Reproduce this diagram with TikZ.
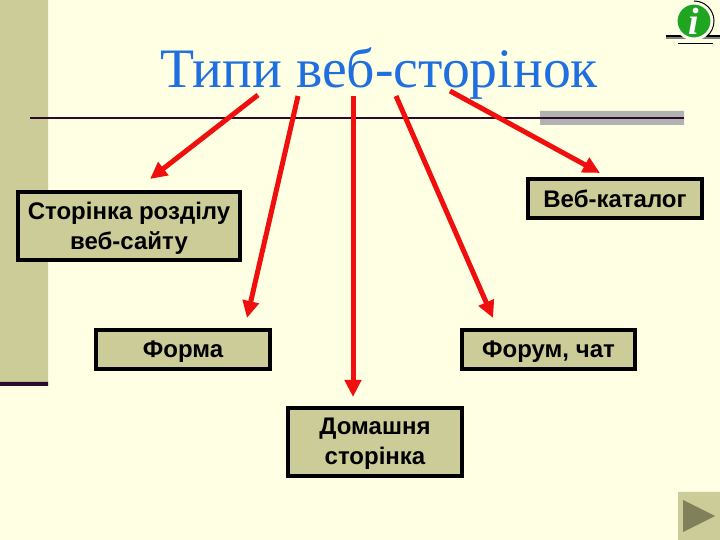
\documentclass[tikz,border=0pt]{standalone}
\usepackage{fontspec}
\setmainfont{Liberation Sans}
\newfontfamily\titlefont{Liberation Serif}
\usetikzlibrary{arrows.meta}
\definecolor{PageBg}{HTML}{FFFFE3}
\definecolor{BandOlive}{HTML}{CCCC99}
\definecolor{DarkPlum}{HTML}{2B0A2B}
\definecolor{BarGrey}{HTML}{B2B2B2}
\definecolor{TitleBlue}{HTML}{1F6FE0}
\definecolor{ArrowRed}{HTML}{F00F0F}
\definecolor{PlayOlive}{HTML}{80805A}
\definecolor{InfoGreen}{HTML}{1FA51F}
\tikzset{
  pagebox/.style={draw=black, line width=4pt, fill=BandOlive, align=center, font=\fontsize{24}{30}\selectfont\bfseries, inner sep=0pt, text depth=1pt},
  redarrow/.style={draw=ArrowRed, line width=5pt, -{Triangle[length=17pt,width=16pt]}},
}
\begin{document}
\begin{tikzpicture}[x=1pt,y=1pt]
        \useasboundingbox (0,0) rectangle (720,540);
        \fill[color=PageBg] (0,0)--(720,0)--(720,540)--(0,540)--(0,0);
        \fill[color=BandOlive] (0,158)--(48,158)--(48,540)--(0,540)--(0,158);
        \fill[color=DarkPlum] (0,154)--(48,154)--(48,158)--(0,158)--(0,154);
        \fill[color=BarGrey] (540,415)--(684,415)--(684,429)--(540,429)--(540,415);
        \draw[color=DarkPlum, line width = 2pt] (30,422)--(684,422);
        \node[text=TitleBlue, font=\titlefont\fontsize{55.700}{60}\selectfont] (title) at (379,466) {Типи веб-сторінок};
        % boxes
        \node[pagebox, minimum width=222pt, minimum height=68pt] (section) at (129,314) {Сторінка розділу\\веб-сайту};
        \node[pagebox, minimum width=174pt, minimum height=39pt] (catalog) at (615,341) {Веб-каталог};
        \node[pagebox, minimum width=174pt, minimum height=39pt] (form) at (183,190.500) {Форма};
        \node[pagebox, minimum width=173pt, minimum height=39pt] (forum) at (548.500,190.500) {Форум, чат};
        \node[pagebox, minimum width=174pt, minimum height=68pt] (home) at (375,98) {Домашня\\сторінка};
        % arrows
        \coordinate (s1) at (258,445);
        \coordinate (e1) at (150,361);
        \coordinate (s2) at (298,444);
        \coordinate (e2) at (247,222);
        \coordinate (s3) at (353,444);
        \coordinate (e3) at (353,143);
        \coordinate (s4) at (396,444);
        \coordinate (e4) at (493,222);
        \coordinate (s5) at (450,449);
        \coordinate (e5) at (600,367);
        \foreach \a in {1,...,5}
            \draw[redarrow] (s\a)--(e\a);
        % info icon
        \draw[color=black, line width=1.5pt] (666,504)--(720,504);
        \draw[color=gray, line width=1.5pt] (666,502)--(720,502);
        \draw[color=black, line width=1pt] (678,496)--(713,496);
        \fill[color=PageBg] (694,519) circle (19.500);
        \draw[line width=1pt] (694,539) arc (90:-50:20);
        \node[circle, fill=InfoGreen, draw=white, line width=1pt, minimum size=34pt, inner sep=0pt, text=white, font=\titlefont\fontsize{38}{38}\selectfont\bfseries\itshape] (info) at (694,519) {i};
        % next button
        \fill[color=BandOlive] (678,0)--(720,0)--(720,48)--(678,48)--(678,0);
        \fill[color=PlayOlive] (683,8)--(715,24)--(683,40)--(683,8);
    \end{tikzpicture}
\end{document}
